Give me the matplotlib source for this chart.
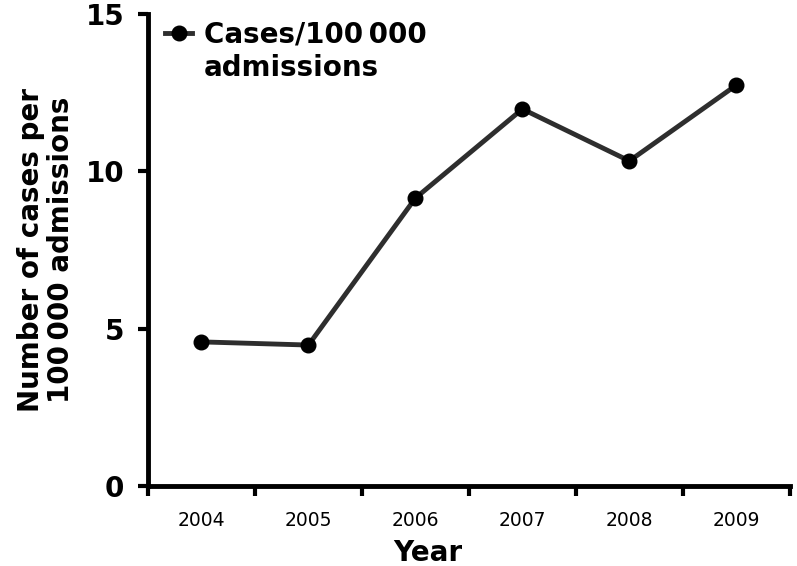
import matplotlib.pyplot as plt
from matplotlib.lines import Line2D

# Data
years = ["2004", "2005", "2006", "2007", "2008", "2009"]
cases = [4.58, 4.48, 9.15, 11.98, 10.33, 12.74]
y_ticks = [0, 5, 10, 15]

plt.rcParams['font.family'] = ['DejaVu Sans']

fig = plt.figure(figsize=(7.97, 5.66), dpi=100)
ax = fig.add_axes([0.1857, 0.1413, 0.8053, 0.834])

x = list(range(len(years)))
line, = ax.plot(x, cases, color="#2e2e2e", linewidth=3.5, marker="o", markersize=10.5,
                markerfacecolor="black", markeredgecolor="black")

ax.set_xlim(-0.5, len(years) - 0.5)
ax.set_ylim(0, 15)

# category labels centred, ticks at the boundaries
ax.set_xticks([i - 0.5 for i in range(len(years) + 1)])
ax.set_xticklabels([])
ax.set_xticks(x, minor=True)
ax.set_xticklabels(years, minor=True, fontsize=13.5)
ax.tick_params(axis="x", which="minor", length=0, pad=18)
ax.tick_params(axis="x", which="major", length=7, width=3, direction="out")

ax.set_yticks(y_ticks)
ax.set_yticklabels([str(v) for v in y_ticks], fontsize=20, fontweight="bold")
ax.tick_params(axis="y", length=7, width=3, direction="out", pad=10)

for side in ["top", "right"]:
    ax.spines[side].set_visible(False)
for side in ["left", "bottom"]:
    ax.spines[side].set_linewidth(3.5)

ax.set_xlabel("Year", fontsize=20, fontweight="bold")
ax.xaxis.set_label_coords(0.436, -0.112)
ax.set_ylabel("Number of cases per\n100\u2009000 admissions", fontsize=20,
              fontweight="bold", labelpad=8, linespacing=1.05)

blank = Line2D([], [], linestyle="none", marker="none")
ax.legend([line, blank], ["Cases/100\u2009000", "admissions"],
          loc="upper left", bbox_to_anchor=(0.0, 1.022), frameon=False,
          handlelength=1.0, handletextpad=0.4, borderaxespad=0.2,
          labelspacing=0.22, prop={"size": 20, "weight": "bold"})

fig.savefig("out.png", dpi=100)
